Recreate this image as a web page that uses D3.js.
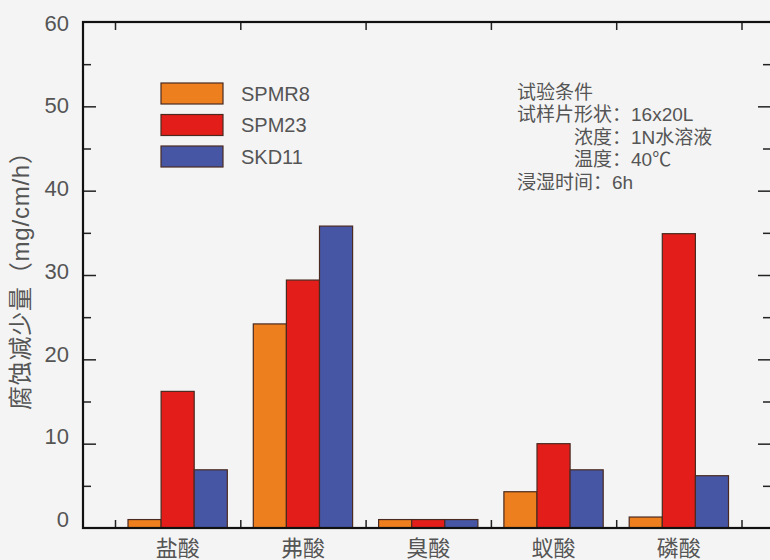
<!DOCTYPE html>
<html><head><meta charset="utf-8">
<script src="https://cdn.jsdelivr.net/npm/d3@7"></script>
<style>
html,body{margin:0;padding:0;background:#f4f4f4;}
svg{display:block;}
text{font-family:"Liberation Sans",Arial,"Noto Sans CJK SC",sans-serif;}
</style></head>
<body><svg id="c" width="770" height="560"></svg>
<script>
const categories = ["盐酸","弗酸","臭酸","蚁酸","磷酸"];
const seriesNames = ["SPMR8","SPM23","SKD11"];
const SPMR8 = [1.0, 24.2, 1.0, 4.3, 1.3];
const SPM23 = [16.2, 29.4, 1.0, 10.0, 34.9];
const SKD11 = [6.9, 35.8, 1.0, 6.9, 6.2];
const seriesValues = [SPMR8, SPM23, SKD11];
const colors = ["#ED7F1E","#E31E1A","#4656A5"];
const yMajorTicks = [0,10,20,30,40,50,60];
const yMinorTicks = [5,15,25,35,45,55];
const noteLines = ["试验条件","试样片形状：16x20L","浓度：1N水溶液","温度：40℃","浸湿时间：6h"];
const noteIndent = [0,0,1,1,0];
const yTitle = "腐蚀减少量（mg/cm/h）";

const svg = d3.select("#c");
const frame = {left:83, right:773, top:22, bottom:528};
const x0 = d3.scaleBand().domain(categories).range([115, 741.5]).padding(0);
const x1 = d3.scaleBand().domain(seriesNames).range([13, x0.bandwidth()-13]).padding(0);
const y = d3.scaleLinear().domain([0,60]).range([frame.bottom, frame.top]);
const yLabel = d3.scaleLinear().domain([0,60]).range([frame.bottom-9, frame.top+0.5]);

// bars
const g = svg.append("g");
categories.forEach((c,i)=>{
  seriesNames.forEach((s,j)=>{
    const v = seriesValues[j][i];
    g.append("rect")
      .attr("x", x0(c)+x1(s))
      .attr("y", y(v))
      .attr("width", x1.bandwidth())
      .attr("height", y(0)-y(v))
      .attr("fill", colors[j])
      .attr("stroke","#4a2a20")
      .attr("stroke-width",1.2);
  });
});

// left axis major
const axL = svg.append("g").attr("transform",`translate(${frame.left},0)`)
  .call(d3.axisLeft(y).tickValues(yMajorTicks).tickSize(-13).tickPadding(14));
axL.select(".domain").remove();
axL.selectAll("line").attr("stroke","#222").attr("stroke-width",1.5);
axL.selectAll("text").attr("font-size",22).attr("fill","#555")
  .attr("dy",null).attr("dominant-baseline","central")
  .attr("y", d=>yLabel(d)-y(d));
axL.selectAll(".tick").filter(d=>d===0||d===60).select("line").remove();
// left minor
const axLm = svg.append("g").attr("transform",`translate(${frame.left},0)`)
  .call(d3.axisLeft(y).tickValues(yMinorTicks).tickSize(-8).tickFormat(""));
axLm.select(".domain").remove();
axLm.selectAll("line").attr("stroke","#222").attr("stroke-width",1.5);

// right axis
const axR = svg.append("g").attr("transform",`translate(${frame.right-2},0)`)
  .call(d3.axisRight(y).tickValues(yMajorTicks.filter(d=>d>0&&d<60)).tickSize(-13).tickFormat(""));
axR.select(".domain").remove();
axR.selectAll("line").attr("stroke","#222").attr("stroke-width",1.5);
const axRm = svg.append("g").attr("transform",`translate(${frame.right-2},0)`)
  .call(d3.axisRight(y).tickValues(yMinorTicks).tickSize(-8).tickFormat(""));
axRm.select(".domain").remove();
axRm.selectAll("line").attr("stroke","#222").attr("stroke-width",1.5);

// category boundary ticks (bottom & top)
const bounds = categories.map(c=>x0(c)).concat([x0.range()[1]]);
const xb = d3.scaleIdentity().domain([0,770]);
const axB = svg.append("g").attr("transform",`translate(0,${frame.bottom})`)
  .call(d3.axisBottom(xb).tickValues(bounds).tickSize(-8).tickFormat(""));
axB.select(".domain").remove();
axB.selectAll("line").attr("stroke","#222").attr("stroke-width",1.5);
const axT = svg.append("g").attr("transform",`translate(0,${frame.top})`)
  .call(d3.axisTop(xb).tickValues(bounds).tickSize(-8).tickFormat(""));
axT.select(".domain").remove();
axT.selectAll("line").attr("stroke","#222").attr("stroke-width",1.5);

// category labels
const axC = svg.append("g").attr("transform",`translate(0,${frame.bottom})`)
  .call(d3.axisBottom(x0).tickSize(0).tickPadding(8));
axC.select(".domain").remove();
axC.selectAll("text").attr("font-size",22).attr("fill","#555").attr("dy",null)
  .attr("y",20).attr("dominant-baseline","central");

// frame
svg.append("rect").attr("x",frame.left).attr("y",frame.top)
  .attr("width",frame.right-frame.left).attr("height",frame.bottom-frame.top)
  .attr("fill","none").attr("stroke","#111").attr("stroke-width",2.2);

// y title
svg.append("text").attr("transform",`translate(20,275) rotate(-90)`)
  .attr("text-anchor","middle").attr("dominant-baseline","central")
  .attr("font-size",24).attr("fill","#555")
  .attr("textLength",270).attr("lengthAdjust","spacing").text(yTitle);

// legend
const lg = svg.append("g");
seriesNames.forEach((s,j)=>{
  const yy = 83 + j*31.5;
  lg.append("rect").attr("x",161).attr("y",yy).attr("width",62).attr("height",21)
    .attr("fill",colors[j]).attr("stroke","#4a2a20").attr("stroke-width",1.2);
  lg.append("text").attr("x",241).attr("y",yy+10.5).attr("dominant-baseline","central")
    .attr("font-size",20).attr("fill","#555").text(s);
});

// note
noteLines.forEach((t,i)=>{
  svg.append("text").attr("x", noteIndent[i] ? 574 : 517).attr("y", 92 + i*22.6)
    .attr("dominant-baseline","central").attr("font-size",19).attr("fill","#555").text(t);
});
</script></body></html>
